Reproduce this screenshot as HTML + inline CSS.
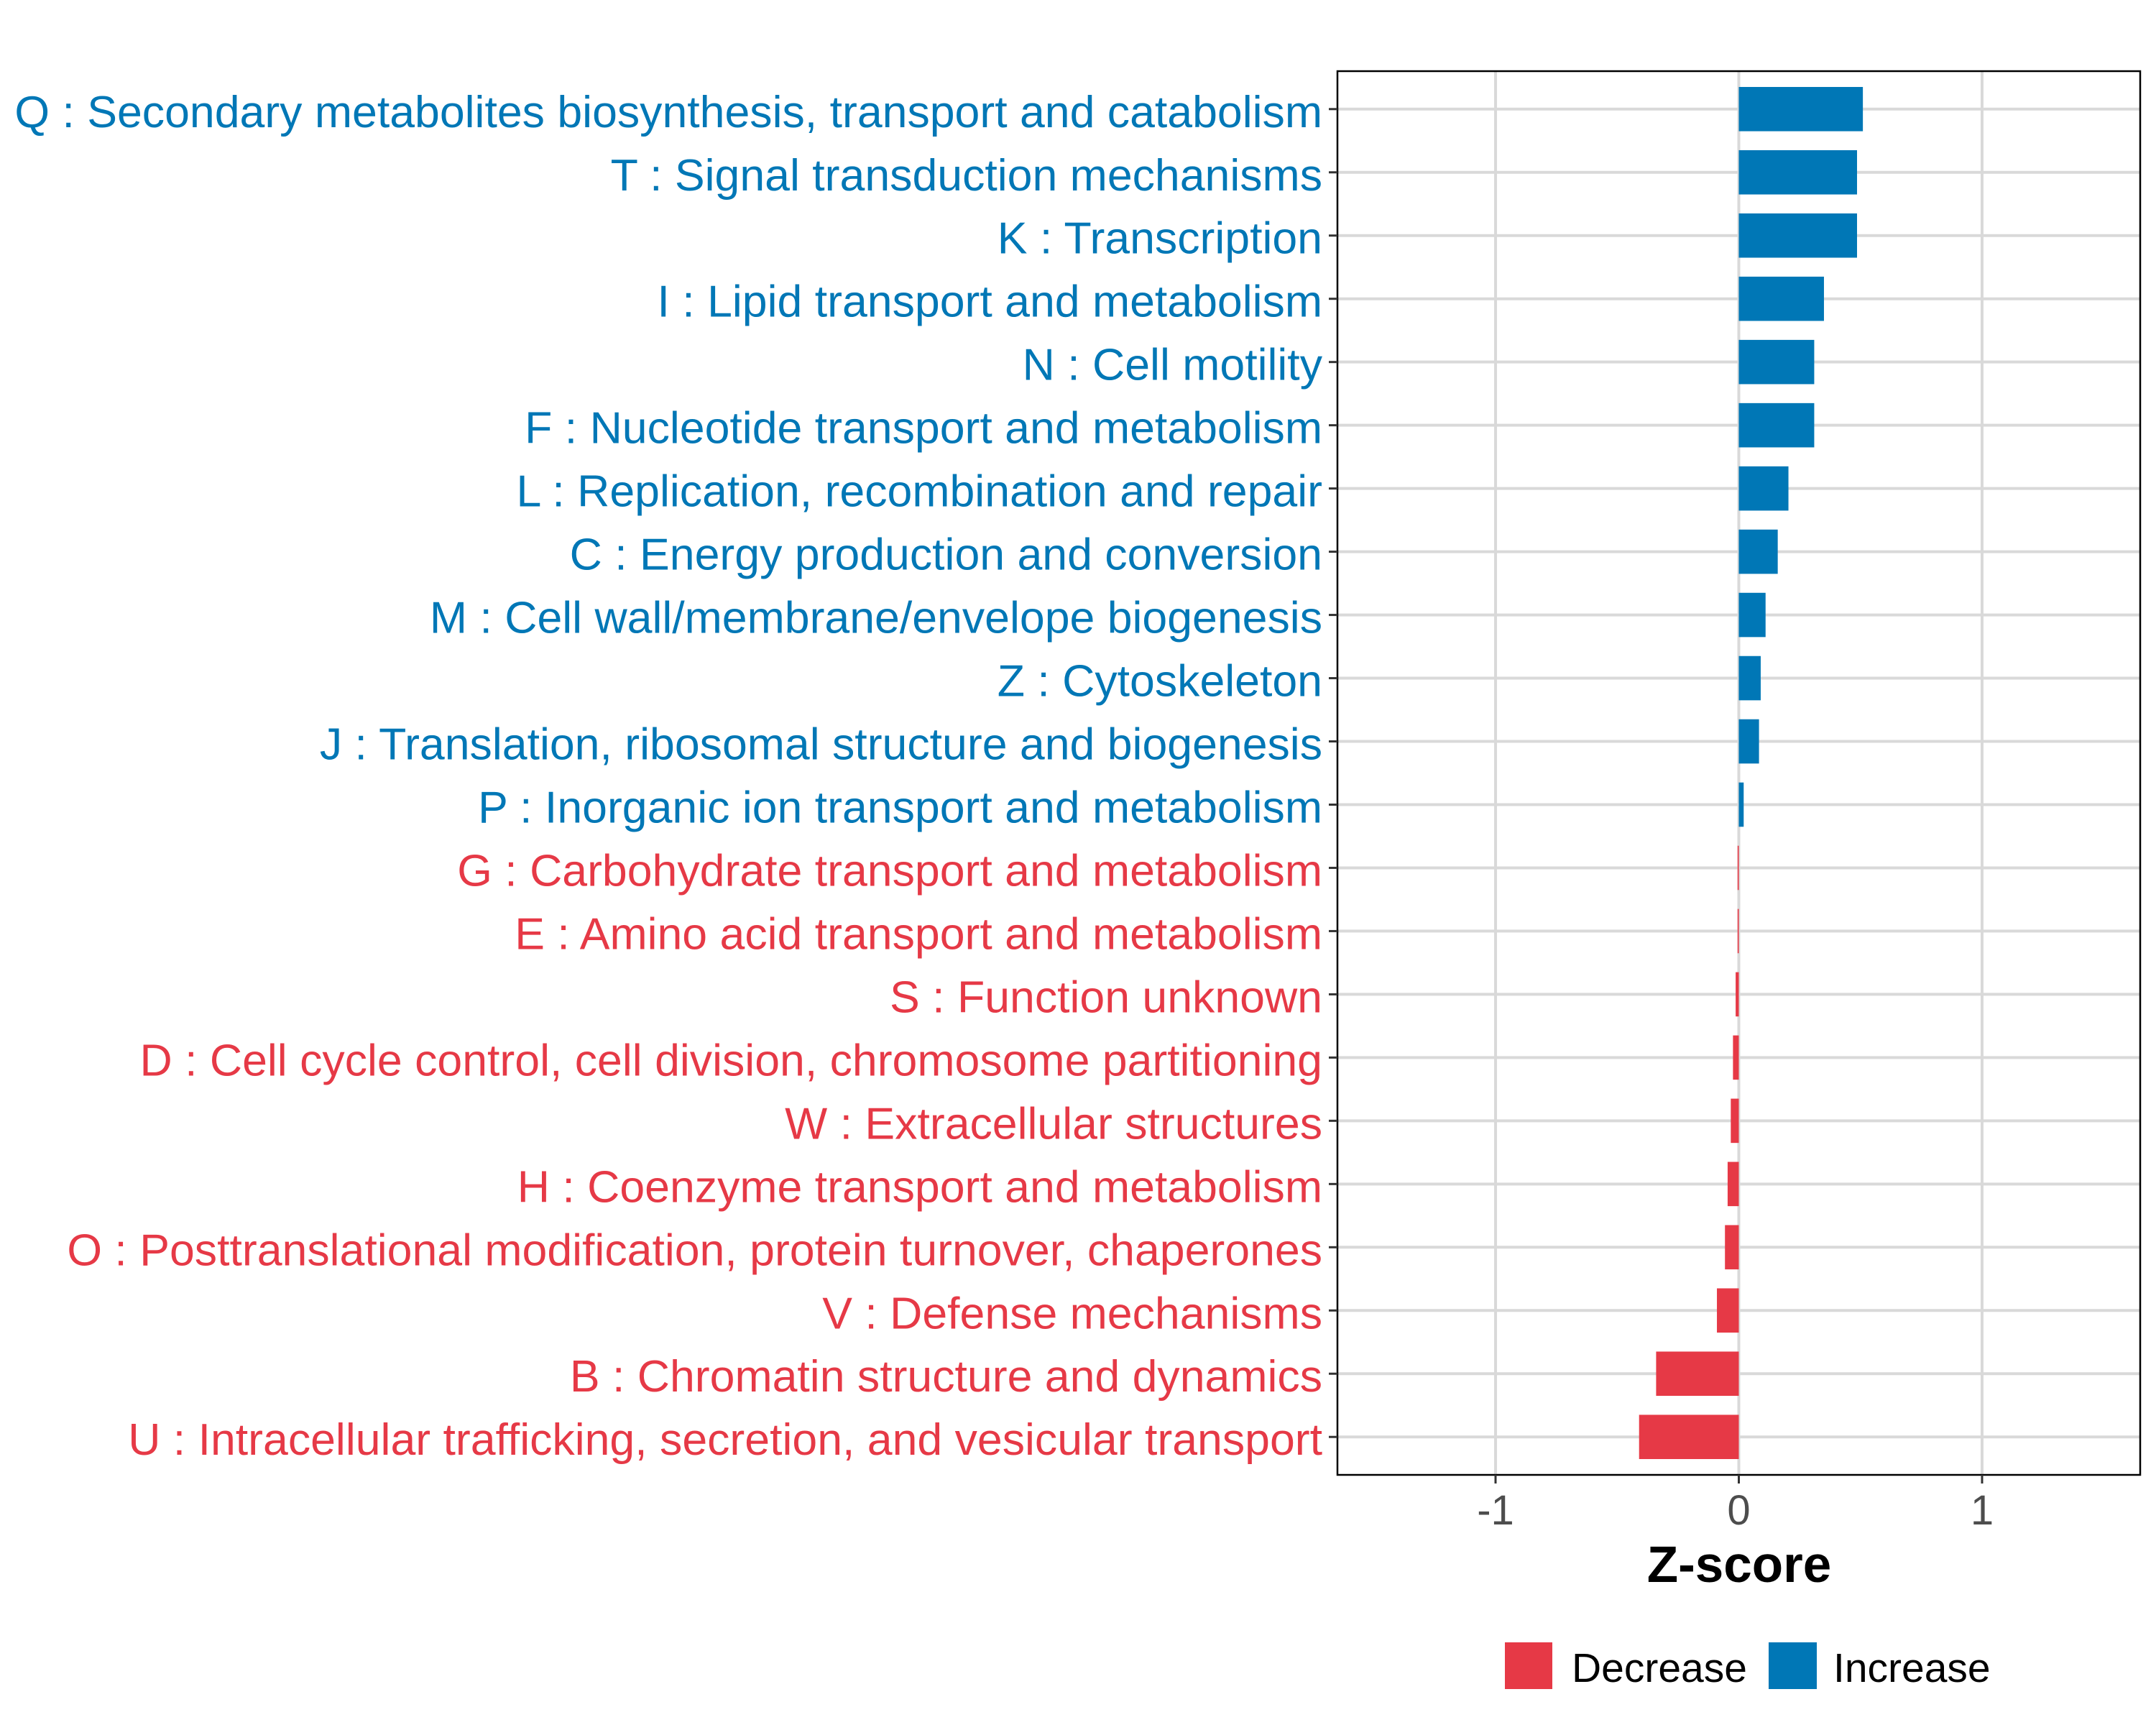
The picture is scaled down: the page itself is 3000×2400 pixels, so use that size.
<!DOCTYPE html>
<html><head><meta charset="utf-8"><style>
html,body{margin:0;padding:0;background:#fff;}
svg{display:block;font-family:"Liberation Sans",Arial,sans-serif;}
</style></head><body>
<svg id="chart" width="3000" height="2400" viewBox="0 0 3000 2400" xmlns="http://www.w3.org/2000/svg">
<rect x="0" y="0" width="3000" height="2400" fill="#fff"/>
<g id="grid"></g>
<g id="bars"></g>
<rect x="1861" y="99" width="1117" height="1953" fill="none" stroke="#000" stroke-width="2.5"/>
<g id="ylabels"></g>
<g id="xticks"></g>
<text x="2420" y="2201" font-size="71" font-weight="bold" text-anchor="middle" fill="#000">Z-score</text>
<g>
<rect x="2094" y="2285" width="66" height="65" fill="#E63946"/>
<text x="2187" y="2340" font-size="57" fill="#000">Decrease</text>
<rect x="2461" y="2285" width="67" height="65" fill="#0077B6"/>
<text x="2551" y="2340" font-size="57" fill="#000">Increase</text>
</g>
</svg>
<script>
const categories = ["Q : Secondary metabolites biosynthesis, transport and catabolism","T : Signal transduction mechanisms","K : Transcription","I : Lipid transport and metabolism","N : Cell motility","F : Nucleotide transport and metabolism","L : Replication, recombination and repair","C : Energy production and conversion","M : Cell wall/membrane/envelope biogenesis","Z : Cytoskeleton","J : Translation, ribosomal structure and biogenesis","P : Inorganic ion transport and metabolism","G : Carbohydrate transport and metabolism","E : Amino acid transport and metabolism","S : Function unknown","D : Cell cycle control, cell division, chromosome partitioning","W : Extracellular structures","H : Coenzyme transport and metabolism","O : Posttranslational modification, protein turnover, chaperones","V : Defense mechanisms","B : Chromatin structure and dynamics","U : Intracellular trafficking, secretion, and vesicular transport"];
const zscores = [0.51,0.486,0.486,0.35,0.31,0.31,0.204,0.16,0.11,0.09,0.083,0.02,-0.005,-0.005,-0.013,-0.024,-0.033,-0.046,-0.057,-0.09,-0.34,-0.41];
const xTicks = [-1,0,1];
const xTickLabels = ["-1","0","1"];

const NS="http://www.w3.org/2000/svg";
const X0=1861,X1=2978,Y0=99,Y1=2052;
const XMIN=-1.65,XMAX=1.65;
function xs(v){return X0+(v-XMIN)/(XMAX-XMIN)*(X1-X0);}
const n=categories.length;
function ys(i){return Y0+(i+0.6)*(Y1-Y0)/(n-1+1.2);}
const step=(Y1-Y0)/(n-1+1.2);
const BLUE="#0077B6",RED="#E63946";
function mk(tag,attrs,parent){const e=document.createElementNS(NS,tag);for(const k in attrs)e.setAttribute(k,attrs[k]);parent.appendChild(e);return e;}
const grid=document.getElementById('grid'),bars=document.getElementById('bars'),yl=document.getElementById('ylabels'),xt=document.getElementById('xticks');
xTicks.forEach((t,i)=>{
  const l=mk('line',{x1:xs(t),x2:xs(t),y1:Y0,y2:Y1,stroke:'#d9d9d9','stroke-width':4},grid);
  
  
  const tk=mk('line',{x1:xs(t),x2:xs(t),y1:Y1,y2:Y1+12,stroke:'#333','stroke-width':3},xt);
  
  
  const tx=mk('text',{x:xs(t),y:2121,'font-size':58,'text-anchor':'middle',fill:'#4d4d4d'},xt);
  tx.textContent=xTickLabels[i];
  
  
});
categories.forEach((c,i)=>{
  const y=ys(i);
  const g=mk('line',{x1:X0,x2:X1,y1:y,y2:y,stroke:'#d9d9d9','stroke-width':4},grid);
  
  
  const v=zscores[i];
  const col=v>=0?BLUE:RED;
  const a=xs(Math.min(0,v)),b=xs(Math.max(0,v));
  const r=mk('rect',{x:a,y:y-step*0.35,width:Math.max(b-a,1),height:step*0.7,fill:col},bars);
  
  
  const tk=mk('line',{x1:X0-12,x2:X0,y1:y,y2:y,stroke:'#333','stroke-width':3},yl);
  
  
  const t=mk('text',{x:1840,y:y+25,'font-size':62.6,'text-anchor':'end',fill:col},yl);
  t.textContent=c;
  
  
});
</script>
</body></html>
